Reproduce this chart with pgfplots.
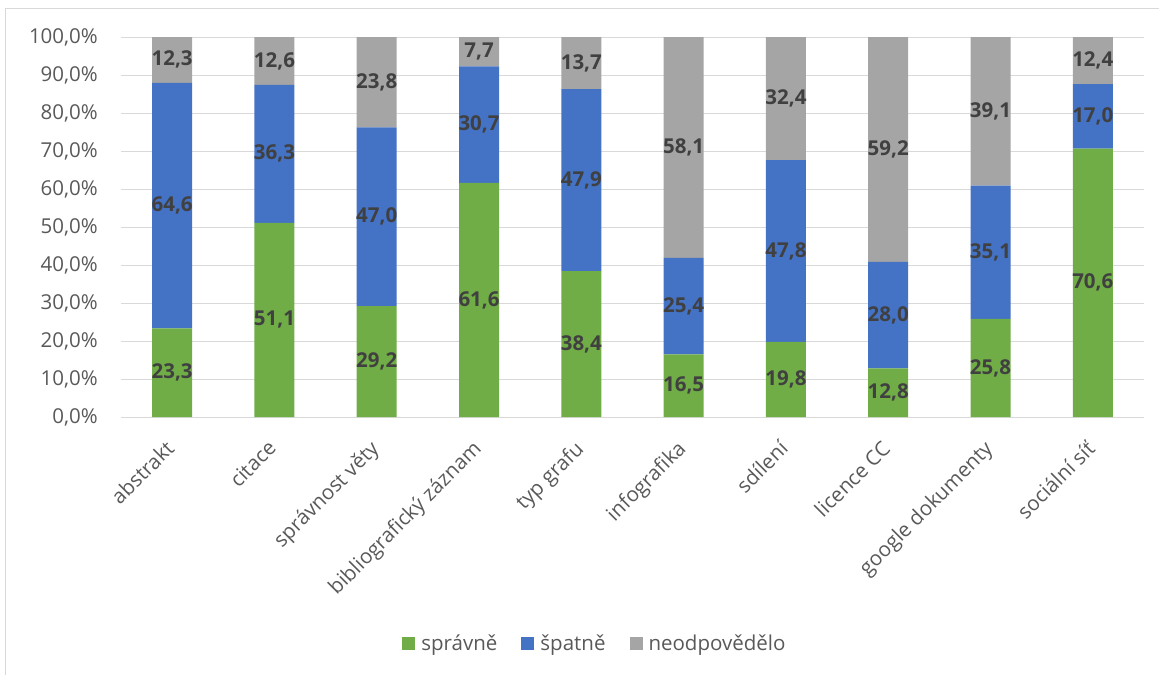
\documentclass[border=0pt]{standalone}
\usepackage{pgfplots}
\pgfplotsset{compat=1.18}
\usepackage{pgfplotstable}
\usepackage{fontspec}
\setmainfont{Open Sans}
\definecolor{cg}{HTML}{70AD47}
\definecolor{cb}{HTML}{4472C4}
\definecolor{cn}{HTML}{A5A5A5}
\definecolor{gridc}{HTML}{D9D9D9}
\definecolor{tickc}{HTML}{595959}
\definecolor{labc}{HTML}{404040}

% values (percent) per category
\pgfplotstableread{
x s z n
0 23.3 64.6 12.3
1 51.1 36.3 12.6
2 29.2 47.0 23.8
3 61.6 30.7 7.7
4 38.4 47.9 13.7
5 16.5 25.4 58.1
6 19.8 47.8 32.4
7 12.8 28.0 59.2
8 25.8 35.1 39.1
9 70.6 17.0 12.4
}\data

% label positions: middle of each stacked segment
\pgfplotstableread{
x y lab
0 11.65 23,3
1 25.55 51,1
2 14.6 29,2
3 30.8 61,6
4 19.2 38,4
5 8.25 16,5
6 9.9 19,8
7 6.4 12,8
8 12.9 25,8
9 35.3 70,6
0 55.6 64,6
1 69.25 36,3
2 52.7 47,0
3 76.95 30,7
4 62.35 47,9
5 29.2 25,4
6 43.7 47,8
7 26.8 28,0
8 43.35 35,1
9 79.1 17,0
0 94.05 12,3
1 93.7 12,6
2 88.1 23,8
3 96.15 7,7
4 93.15 13,7
5 70.95 58,1
6 83.8 32,4
7 70.4 59,2
8 80.45 39,1
9 93.8 12,4
}\labels

\begin{document}
\begin{tikzpicture}
\path[use as bounding box] (-121pt,-258pt) rectangle (1038pt,417pt);
\draw[gridc, line width=1pt] (-115pt,-258pt) -- (-115pt,408pt) -- (1038pt,408pt);
\begin{axis}[
  at={(0pt,0pt)}, anchor=south west,
  scale only axis, width=1023pt, height=380pt,
  xmin=-0.5, xmax=9.5, ymin=0, ymax=100,
  ybar stacked, bar width=40pt,
  axis line style={draw=none},
  major tick length=0pt,
  xtick={0,...,9},
  xticklabels={abstrakt, citace, správnost věty, bibliografický záznam, typ grafu, infografika, sdílení, licence CC, google dokumenty, sociální síť},
  xticklabel style={rotate=45, anchor=north east, inner sep=0pt, yshift=-10pt, xshift=-21pt, font=\fontsize{20.5}{24}\selectfont, text=tickc},
  ytick={0,10,...,100},
  /pgf/number format/assume math mode=true,
  yticklabel={\pgfmathprintnumber[fixed,fixed zerofill,precision=1,use comma]{\tick}\%},
  yticklabel style={anchor=east, inner sep=0pt, xshift=-23pt, font=\fontsize{20.5}{24}\selectfont, text=tickc},
  ymajorgrids, grid style={gridc, line width=1pt},
  legend style={at={(0.4633,-0.595)}, anchor=center, draw=none, legend columns=-1,
     font=\fontsize{20.5}{24}\selectfont, text=tickc,
     /tikz/every odd column/.append style={column sep=4pt},
     /tikz/every even column/.append style={column sep=22pt}},
  legend image code/.code={\path[#1,draw=none] (0pt,-6.5pt) rectangle (13pt,6.5pt);},
]
\addplot[fill=cg, draw=none] table[x=x, y=s] {\data};
\addplot[fill=cb, draw=none] table[x=x, y=z] {\data};
\addplot[fill=cn, draw=none] table[x=x, y=n] {\data};
\legend{správně, špatně, neodpovědělo}
\end{axis}
\begin{axis}[
  at={(0pt,0pt)}, anchor=south west,
  scale only axis, width=1023pt, height=380pt,
  xmin=-0.5, xmax=9.5, ymin=0, ymax=100,
  hide axis, clip=false,
]
\addplot[only marks, mark=none, point meta=explicit symbolic,
  nodes near coords,
  every node near coord/.append style={anchor=center, inner sep=0pt,
    font=\fontsize{20.5}{24}\selectfont\bfseries, text=labc}]
  table[x=x, y=y, meta=lab] {\labels};
\end{axis}
\end{tikzpicture}
\end{document}
